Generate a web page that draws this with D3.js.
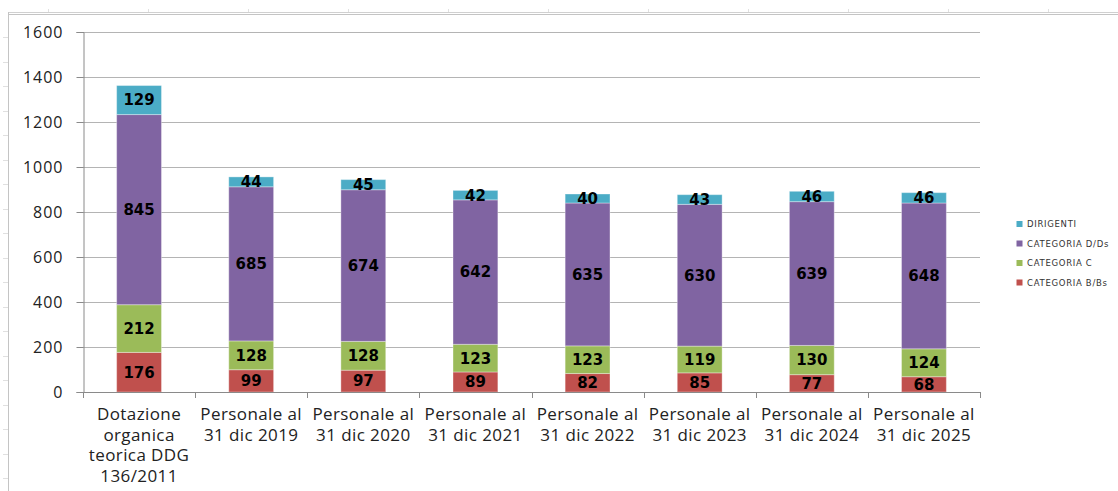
<!DOCTYPE html>
<html><head><meta charset="utf-8">
<script src="https://cdn.jsdelivr.net/npm/d3@7"></script>
<style>body{margin:0;background:#fff}svg{display:block}</style>
</head><body>
<svg id="c" width="1118" height="491"></svg>
<script>
const categories = ["Dotazione\norganica\nteorica DDG\n136/2011","Personale al\n31 dic 2019","Personale al\n31 dic 2020","Personale al\n31 dic 2021","Personale al\n31 dic 2022","Personale al\n31 dic 2023","Personale al\n31 dic 2024","Personale al\n31 dic 2025"];
const seriesNames = ["CATEGORIA B/Bs","CATEGORIA C","CATEGORIA D/Ds","DIRIGENTI"];
const catB = [176,99,97,89,82,85,77,68];
const catC = [212,128,128,123,123,119,130,124];
const catD = [845,685,674,642,635,630,639,648];
const dirigenti = [129,44,45,42,40,43,46,46];
const yTicks = [0,200,400,600,800,1000,1200,1400,1600];
const colors = ["#C0504D","#9BBB59","#8064A2","#4BACC6"];

const svg = d3.select("#c");
// spreadsheet frame
const bg = svg.append("g");
bg.append("line").attr("x1",8).attr("x2",1118).attr("y1",12.5).attr("y2",12.5).attr("stroke","#d0d0d0");
bg.append("line").attr("x1",8).attr("x2",1118).attr("y1",14.5).attr("y2",14.5).attr("stroke","#c4c4c4");
bg.append("line").attr("x1",8.5).attr("x2",8.5).attr("y1",12).attr("y2",491).attr("stroke","#c4c4c4");
d3.range(48,1118,100).forEach(x=>bg.append("line").attr("x1",x+0.5).attr("x2",x+0.5).attr("y1",9).attr("y2",12).attr("stroke","#e0e0e0"));
d3.range(37,491,24.5).forEach(y=>bg.append("line").attr("x1",3).attr("x2",8).attr("y1",Math.round(y)+0.5).attr("y2",Math.round(y)+0.5).attr("stroke","#e0e0e0"));

const data = categories.map((c,i)=>({cat:c, "CATEGORIA B/Bs":catB[i], "CATEGORIA C":catC[i], "CATEGORIA D/Ds":catD[i], "DIRIGENTI":dirigenti[i]}));
const stack = d3.stack().keys(seriesNames)(data);

const x = d3.scaleBand().domain(categories).range([83,980]).paddingInner(0.6).paddingOuter(0.3);
const y = d3.scaleLinear().domain([0,1600]).range([392,32]);

// gridlines
svg.append("g").selectAll("line").data(yTicks.filter(d=>d>0)).join("line")
  .attr("x1",83).attr("x2",980).attr("y1",d=>Math.round(y(d))+0.5).attr("y2",d=>Math.round(y(d))+0.5)
  .attr("stroke","#b4b4b4");

// y axis
const yAxis = svg.append("g").attr("transform","translate(83.5,0)")
  .call(d3.axisLeft(y).tickValues(yTicks).tickSize(7).tickPadding(13).tickFormat(d3.format("d")));
yAxis.select(".domain").attr("stroke","#8a8a8a");
yAxis.selectAll(".tick line").attr("stroke","#8a8a8a");
yAxis.selectAll("text").attr("font-family","'Open Sans'").attr("font-size",16).attr("letter-spacing","1px").attr("fill","#222");

// bars
const layers = svg.append("g").selectAll("g").data(stack).join("g").attr("fill",(d,i)=>colors[i]);
layers.selectAll("rect").data(d=>d).join("rect")
  .attr("x",d=>x(d.data.cat)).attr("width",x.bandwidth())
  .attr("y",d=>y(d[1])).attr("height",d=>y(d[0])-y(d[1]))
  .attr("stroke","rgba(255,255,255,0.35)").attr("stroke-width",1);

// labels
const lbl = svg.append("g");
stack.forEach(s=>{
  s.forEach(d=>{
    lbl.append("text").attr("x",x(d.data.cat)+x.bandwidth()/2).attr("y",y((d[0]+d[1])/2))
      .attr("dy","0.36em").attr("text-anchor","middle")
      .attr("font-family","'DejaVu Sans'").attr("font-weight","bold").attr("font-size",15)
      .attr("fill","#000").text(d[1]-d[0]);
  });
});

// x axis
const xg = svg.append("g");
xg.append("line").attr("x1",83).attr("x2",980).attr("y1",392.5).attr("y2",392.5).attr("stroke","#8a8a8a");
const bounds = categories.map(c=>x(c)-x.step()*x.paddingInner()/2).concat([980]);
bounds[0]=83;
xg.selectAll(".xt").data(bounds).join("line").attr("class","xt")
  .attr("x1",d=>Math.round(d)+0.5).attr("x2",d=>Math.round(d)+0.5).attr("y1",392).attr("y2",398).attr("stroke","#8a8a8a");
categories.forEach(c=>{
  const cx = x(c)+x.bandwidth()/2;
  const t = xg.append("text").attr("text-anchor","middle").attr("font-family","'Open Sans'")
    .attr("font-size",17).attr("letter-spacing","0.4px").attr("fill","#222");
  c.split("\n").forEach((line,j)=>t.append("tspan").attr("x",cx).attr("y",420+j*20.7).text(line));
});

// legend
const leg = svg.append("g");
const legOrder = ["DIRIGENTI","CATEGORIA D/Ds","CATEGORIA C","CATEGORIA B/Bs"];
const legY = [224,243.5,263,282.5];
legOrder.forEach((n,i)=>{
  const ci = seriesNames.indexOf(n);
  leg.append("rect").attr("x",1016.5).attr("y",legY[i]-3).attr("width",6).attr("height",6).attr("fill",colors[ci]);
  leg.append("text").attr("x",1027).attr("y",legY[i]).attr("dy","0.36em")
    .attr("font-family","'DejaVu Sans'").attr("font-size",8.5).attr("letter-spacing","0.7px").attr("fill","#333").text(n);
});
</script>
</body></html>
